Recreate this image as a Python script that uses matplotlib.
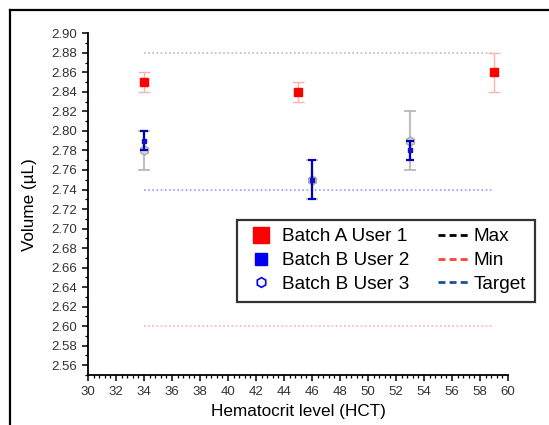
import matplotlib
matplotlib.use("Agg")
import matplotlib.pyplot as plt
from matplotlib.lines import Line2D
from matplotlib.ticker import MultipleLocator
import numpy as np

plt.rcParams['font.family'] = ['Liberation Sans', 'DejaVu Sans']

# Data
a_x = [34, 45, 59]
a_y = [2.85, 2.84, 2.86]
a_err = [0.01, 0.01, 0.02]

b2_x = [34, 46, 53]
b2_y = [2.79, 2.75, 2.78]
b2_err = [0.01, 0.02, 0.01]

b3_x = [34, 46, 53]
b3_y = [2.78, 2.75, 2.79]
b3_err = [0.02, 0.02, 0.03]

ref_x = [34, 59]
max_val = 2.88
min_val = 2.60
target_val = 2.74

legend_labels = ["Batch A User 1", "Batch B User 2", "Batch B User 3", "Max", "Min", "Target"]

W, H = 549, 425
fig = plt.figure(figsize=(W / 100, H / 100), dpi=100)
ax = fig.add_axes([88 / W, 1 - 375 / H, 420 / W, (375 - 33.3) / H])

# reference lines
ax.plot(ref_x, [max_val, max_val], color='#bbbbbb', lw=1.2, ls=(0, (1, 1.5)), zorder=1)
ax.plot(ref_x, [target_val, target_val], color='#9999ff', lw=1.2, ls=(0, (1, 1.5)), zorder=1)
ax.plot(ref_x, [min_val, min_val], color='#ffb0b0', lw=1.2, ls=(0, (1, 1.5)), zorder=1)

# Batch B user 3 (gray hexagons)
ax.errorbar(b3_x, b3_y, yerr=b3_err, fmt='h', color='#b0b0b0', ecolor='#b8b8b8',
            elinewidth=1.6, capsize=4, capthick=1.4, markersize=6.5,
            markerfacecolor='#d8d8d8', markeredgecolor='#a0a0a0', alpha=0.9, zorder=2)
# Batch A user 1 (red squares)
ax.errorbar(a_x, a_y, yerr=a_err, fmt='s', color='red', ecolor='#ffb0b0',
            elinewidth=1.0, capsize=4, capthick=1.0, markersize=5.5, zorder=3)
# Batch B user 2 (blue squares)
ax.errorbar(b2_x, b2_y, yerr=b2_err, fmt='s', color='#1010cc', ecolor='#0000bb',
            elinewidth=1.6, capsize=3, capthick=1.6, markersize=3, zorder=4)

ax.set_xlim(30, 60)
ax.set_ylim(2.55, 2.90)
ax.xaxis.set_major_locator(MultipleLocator(2))
ax.xaxis.set_minor_locator(MultipleLocator(0.4))
ax.yaxis.set_minor_locator(MultipleLocator(0.01))
ax.set_yticks(np.arange(2.56, 2.9001, 0.02))
ax.yaxis.set_major_formatter(matplotlib.ticker.FormatStrFormatter('%.2f'))

for s in ['top', 'right']:
    ax.spines[s].set_visible(False)
for s in ['left', 'bottom']:
    ax.spines[s].set_linewidth(1.3)
    ax.spines[s].set_color('black')

ax.tick_params(which='major', direction='out', length=4, width=1.1, labelsize=9.5,
               labelcolor='#333333')
ax.tick_params(axis='y', which='major', pad=4)
ax.tick_params(axis='x', which='major', pad=4)
ax.tick_params(which='minor', direction='out', length=2.5, width=0.9)

ax.set_xlabel("Hematocrit level (HCT)", fontsize=12.3, labelpad=4.5)
ax.set_ylabel("Volume (\u00b5L)", fontsize=12.3, labelpad=10)

# legend
handles = [
    Line2D([], [], ls='none', marker='s', markersize=12, color='red'),
    Line2D([], [], ls='none', marker='s', markersize=8, color='#0000ee'),
    Line2D([], [], ls='none', marker='h', markersize=7, markerfacecolor='white',
           markeredgecolor='#0000ee', markeredgewidth=1.2),
    Line2D([], [], color='black', lw=2, ls=(0, (2.5, 1.5))),
    Line2D([], [], color='#ff4040', lw=2, ls=(0, (2.5, 1.5))),
    Line2D([], [], color='#1a4fa0', lw=2, ls=(0, (2.5, 1.5))),
]
leg = fig.legend(handles, legend_labels, ncol=2, loc='upper left',
                 bbox_to_anchor=(237 / W, 1 - 219.5 / H), bbox_transform=fig.transFigure,
                 fontsize=13.7, frameon=True, fancybox=False, edgecolor='black',
                 handlelength=1.6, handletextpad=0.3, columnspacing=1.5,
                 labelspacing=0.34, borderpad=0.45, borderaxespad=0)
leg.get_frame().set_linewidth(1.6)

# outer frame (cropped box)
fig.add_artist(Line2D([9.5 / W, 9.5 / W], [0, 1 - 9.5 / H], color='black', lw=1.6,
                      transform=fig.transFigure))
fig.add_artist(Line2D([9.5 / W, 1], [1 - 9.5 / H, 1 - 9.5 / H], color='black', lw=1.6,
                      transform=fig.transFigure))

fig.savefig("out.png", dpi=100)
